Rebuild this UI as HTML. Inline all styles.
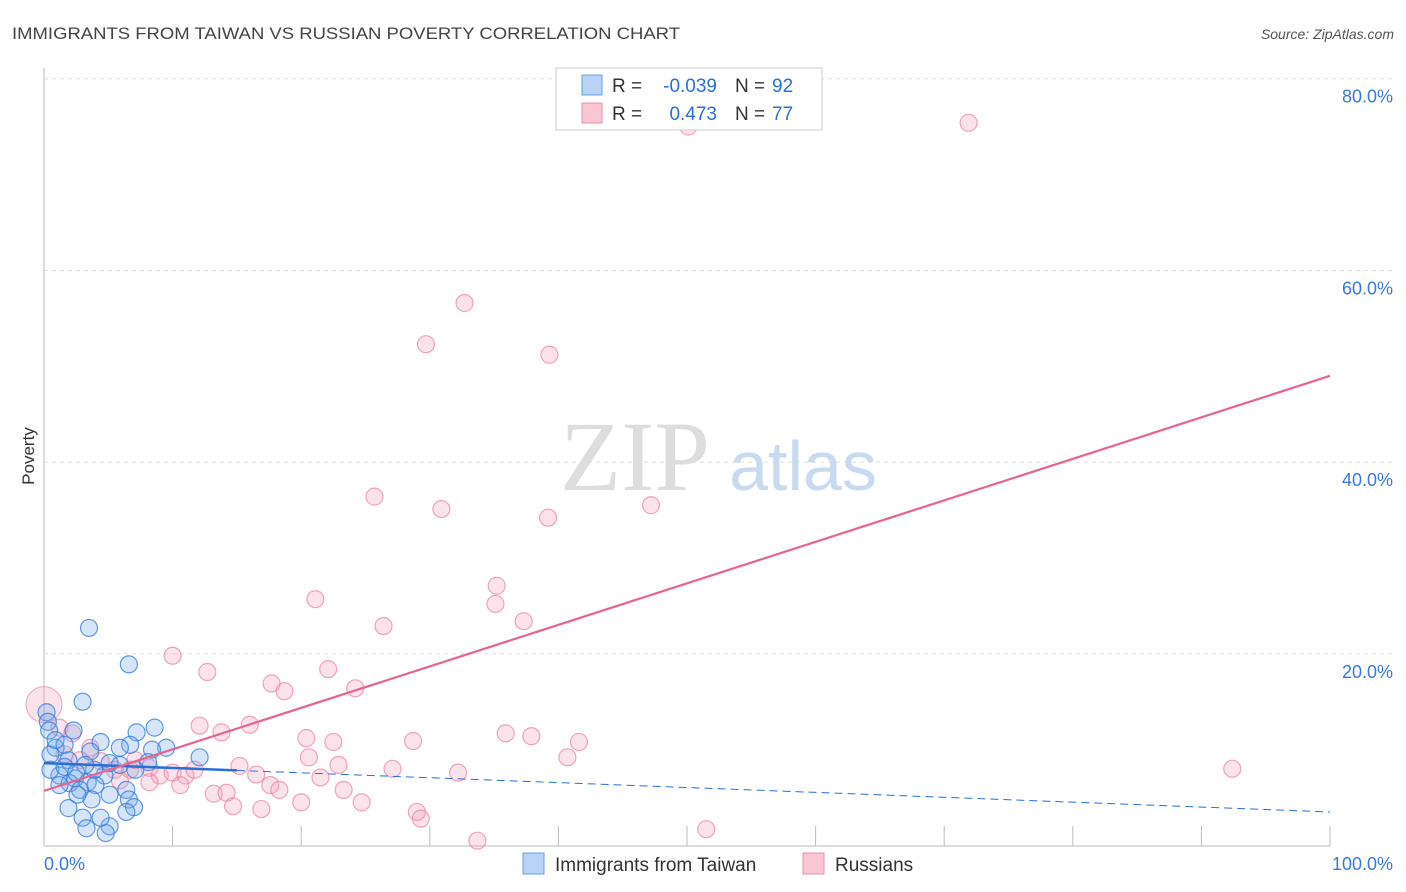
<!DOCTYPE html>
<html><head><meta charset="utf-8"><style>
body{margin:0;background:#fff;font-family:"Liberation Sans",sans-serif;}
svg{display:block}
</style></head><body>
<svg width="1406" height="892">
<text x="12" y="39" font-size="17" fill="#444" textLength="668" lengthAdjust="spacingAndGlyphs">IMMIGRANTS FROM TAIWAN VS RUSSIAN POVERTY CORRELATION CHART</text>
<text x="1394" y="39" font-size="14" fill="#555" font-style="italic" text-anchor="end">Source: ZipAtlas.com</text>
<g id="grid"></g>
<g><text x="635" y="490" font-size="100" fill="#ddd" font-family="Liberation Serif" text-anchor="middle">ZIP</text><text x="803" y="490" font-size="70" fill="#c9d9ef" text-anchor="middle">atlas</text></g>
<g id="pts"></g>
<g id="trends"></g>
<text x="34" y="456" font-size="17" fill="#333" transform="rotate(-90 34 456)" text-anchor="middle">Poverty</text>
<g>
<rect x="556" y="68" width="266" height="62" fill="#fff" stroke="#ccc"/>
<rect x="582" y="75" width="20" height="20" fill="#b8d3f5" stroke="#6a9fe0"/>
<text x="612" y="92" font-size="19" fill="#333">R =</text>
<text x="717" y="92" font-size="19" fill="#2a6fd6" text-anchor="end">-0.039</text>
<text x="735" y="92" font-size="19" fill="#333">N =</text>
<text x="772" y="92" font-size="19" fill="#2a6fd6">92</text>
<rect x="582" y="103" width="20" height="20" fill="#f9c6d4" stroke="#e890aa"/>
<text x="612" y="120" font-size="19" fill="#333">R =</text>
<text x="717" y="120" font-size="19" fill="#2a6fd6" text-anchor="end">0.473</text>
<text x="735" y="120" font-size="19" fill="#333">N =</text>
<text x="772" y="120" font-size="19" fill="#2a6fd6">77</text>
</g>
<g>
<rect x="523" y="853" width="21" height="21" fill="#b8d3f5" stroke="#6a9fe0"/>
<text x="555" y="871" font-size="19" fill="#333">Immigrants from Taiwan</text>
<rect x="803" y="853" width="21" height="21" fill="#f9c6d4" stroke="#e890aa"/>
<text x="835" y="871" font-size="19" fill="#333">Russians</text>
</g>
</svg>
<script>
const yTicks=[20,40,60,80];
const xTickLabels=["0.0%","100.0%"];
const blueX=[3.5,6.6,3.0,0.2,0.3,0.4,2.3,8.6,7.2,4.4,6.7,5.9,9.5,8.4,12.1,3.6,0.9,0.5,1.9,8.1,7.1,4.7,1.2,2.4,3.4,2.0,2.8,4.0,1.2,5.1,6.4,6.6,7.0,6.4,3.7,1.9,3.0,3.3,5.1,4.8,4.4,2.6,0.5,1.6,5.1,3.9,0.9,1.6,3.2,5.9,2.5];
const blueY=[22.7,18.9,15.0,13.9,12.9,12.0,12.0,12.3,11.8,10.8,10.5,10.2,10.2,10.0,9.2,9.8,10.2,9.5,8.9,8.7,7.9,7.3,7.3,7.0,6.6,6.5,5.8,6.3,6.3,5.3,5.8,4.8,4.0,3.5,4.8,3.9,2.9,1.8,2.0,1.3,2.9,5.3,7.9,8.2,8.6,7.9,11.0,10.5,8.4,8.4,7.6];
const pinkX=[50.1,71.9,32.7,29.7,39.3,25.7,30.9,39.2,47.2,35.2,35.1,21.1,37.3,26.4,10.0,22.1,12.7,17.7,18.7,24.2,12.1,16.0,13.8,20.4,22.5,28.7,35.9,37.9,41.6,40.7,20.6,22.9,27.1,32.2,21.5,92.4,15.2,16.5,17.6,18.3,13.2,14.2,14.7,16.9,20.0,23.3,24.7,29.0,29.3,33.7,51.5,1.2,2.2,3.6,4.4,5.5,6.7,8.2,9.0,10,11,11.7,10.6,8.2,5.9,1.6,2.8,7.1];
const pinkY=[75.0,75.4,56.6,52.3,51.2,36.4,35.1,34.2,35.5,27.1,25.2,25.7,23.4,22.9,19.8,18.4,18.1,16.9,16.1,16.4,12.5,12.6,11.8,11.2,10.8,10.9,11.7,11.4,10.8,9.2,9.2,8.4,8.0,7.6,7.1,8.0,8.3,7.4,6.3,5.8,5.4,5.5,4.1,3.8,4.5,5.8,4.5,3.5,2.8,0.5,1.7,12.3,11.7,10.2,8.8,7.9,7.9,8.1,7.3,7.6,7.3,7.9,6.3,6.6,6.8,9.5,8.9,8.9];
const blueTrend=[8.6,3.5];const pinkTrend=[5.7,49.0];
const X=v=>44+v*12.86, Y=v=>845.5-v*9.585;
const NS="http://www.w3.org/2000/svg";
function mk(t,a,p){const e=document.createElementNS(NS,t);for(const k in a)e.setAttribute(k,a[k]);p.appendChild(e);return e;}
const g=document.getElementById('grid');
let ax=mk('line',{x1:44,y1:68,x2:44,y2:846,stroke:'#bbb'},g);


let bx=mk('line',{x1:44,y1:846,x2:1330,y2:846,stroke:'#bbb'},g);


yTicks.forEach(t=>{
 let l=mk('line',{x1:44,x2:1394,y1:Y(t),y2:Y(t),stroke:'#ddd','stroke-dasharray':'4,4'},g);
 
 
 let tx=mk('text',{x:1393,y:Y(t)+24,'font-size':18,fill:'#3b78d8','text-anchor':'end'},g);
 tx.textContent=t.toFixed(1)+'%';
 
 
});
for(let i=0;i<=10;i++){let l=mk('line',{x1:X(i*10),x2:X(i*10),y1:826,y2:846,stroke:'#bbb'},g);
 
 }
xTickLabels.forEach((s,i)=>{let t=mk('text',{x:i?1393:44,y:870,'font-size':18,fill:'#3b78d8','text-anchor':i?'end':'start'},g);t.textContent=s;
 
 });
const p=document.getElementById('pts');
pinkX.forEach((x,i)=>{let c=mk('circle',{cx:X(x),cy:Y(pinkY[i]),r:8.5,fill:'rgba(244,160,185,0.3)',stroke:'rgba(232,130,160,0.7)','stroke-width':1.2},p);
 
 });
let big=mk('circle',{cx:X(0),cy:Y(14.7),r:18,fill:'rgba(244,160,185,0.3)',stroke:'rgba(232,130,160,0.7)'},p);


blueX.forEach((x,i)=>{let c=mk('circle',{cx:X(x),cy:Y(blueY[i]),r:8.5,fill:'rgba(120,170,235,0.3)',stroke:'rgba(50,120,220,0.75)','stroke-width':1.2},p);
 
 });
const tr=document.getElementById('trends');
const bv=x=>blueTrend[0]+(blueTrend[1]-blueTrend[0])*x/100;
let b1=mk('line',{x1:X(0),y1:Y(bv(0)),x2:X(15),y2:Y(bv(15)),stroke:'#2a6fd6','stroke-width':2.5},tr);


let b2=mk('line',{x1:X(15),y1:Y(bv(15)),x2:X(100),y2:Y(bv(100)),stroke:'#2a6fd6','stroke-width':1,'stroke-dasharray':'8,5'},tr);


let pl=mk('line',{x1:X(0),y1:Y(pinkTrend[0]),x2:X(100),y2:Y(pinkTrend[1]),stroke:'#e8638f','stroke-width':2.2},tr);


</script>
</body></html>
